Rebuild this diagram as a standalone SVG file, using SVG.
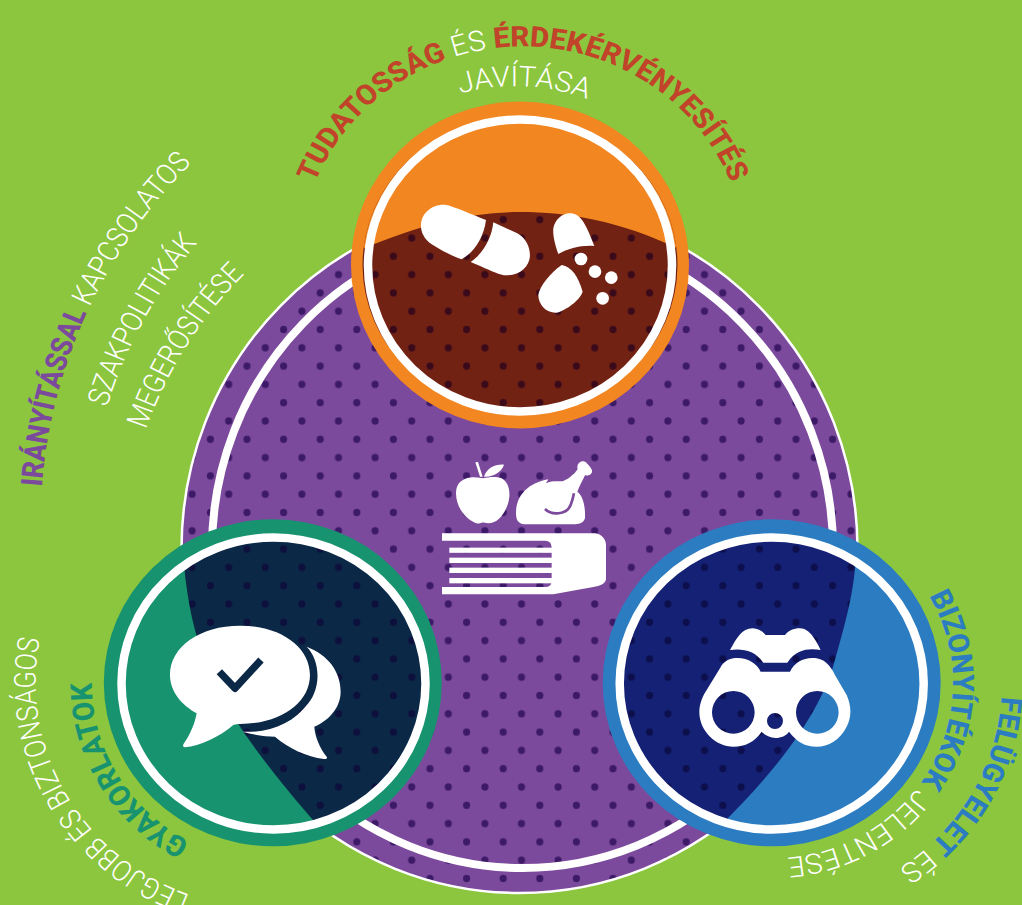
<svg xmlns="http://www.w3.org/2000/svg" width="1022" height="905" viewBox="0 0 1022 905">
<style>
text{font-family:Roboto,"Liberation Sans",sans-serif;font-size:30px}
.b{font-weight:800}.l{font-weight:300;fill:#fff}
.ring{fill:none;stroke:#fff;stroke-width:8.5}
.w{fill:#fff}
</style>
<defs>
<pattern id="dMain" patternUnits="userSpaceOnUse" x="9.1" y="18.4" width="36.6" height="36.6"><rect width="36.6" height="36.6" fill="#7c4a9c"/><circle cx="0" cy="0" r="3.6" fill="#3d1a68"/><circle cx="36.6" cy="0" r="3.6" fill="#3d1a68"/><circle cx="0" cy="36.6" r="3.6" fill="#3d1a68"/><circle cx="36.6" cy="36.6" r="3.6" fill="#3d1a68"/><circle cx="18.3" cy="18.3" r="3.6" fill="#3d1a68"/></pattern>
<pattern id="dBrown" patternUnits="userSpaceOnUse" x="9.1" y="18.4" width="36.6" height="36.6"><rect width="36.6" height="36.6" fill="#722213"/><circle cx="0" cy="0" r="3.6" fill="#3a0a1a"/><circle cx="36.6" cy="0" r="3.6" fill="#3a0a1a"/><circle cx="0" cy="36.6" r="3.6" fill="#3a0a1a"/><circle cx="36.6" cy="36.6" r="3.6" fill="#3a0a1a"/><circle cx="18.3" cy="18.3" r="3.6" fill="#3a0a1a"/></pattern>
<pattern id="dNavy" patternUnits="userSpaceOnUse" x="9.1" y="18.4" width="36.6" height="36.6"><rect width="36.6" height="36.6" fill="#0b2846"/><circle cx="0" cy="0" r="3.6" fill="#0d0f3d"/><circle cx="36.6" cy="0" r="3.6" fill="#0d0f3d"/><circle cx="0" cy="36.6" r="3.6" fill="#0d0f3d"/><circle cx="36.6" cy="36.6" r="3.6" fill="#0d0f3d"/><circle cx="18.3" cy="18.3" r="3.6" fill="#0d0f3d"/></pattern>
<pattern id="dBlue" patternUnits="userSpaceOnUse" x="9.1" y="18.4" width="36.6" height="36.6"><rect width="36.6" height="36.6" fill="#142175"/><circle cx="0" cy="0" r="3.6" fill="#0d0f4d"/><circle cx="36.6" cy="0" r="3.6" fill="#0d0f4d"/><circle cx="0" cy="36.6" r="3.6" fill="#0d0f4d"/><circle cx="36.6" cy="36.6" r="3.6" fill="#0d0f4d"/><circle cx="18.3" cy="18.3" r="3.6" fill="#0d0f4d"/></pattern>
<clipPath id="cO"><ellipse cx="520" cy="265" rx="157.5" ry="148"/></clipPath>
<clipPath id="cT"><ellipse cx="273.5" cy="683.5" rx="153" ry="147"/></clipPath>
<clipPath id="cB"><ellipse cx="771.7" cy="683.5" rx="153" ry="147"/></clipPath>
<path id="pTop" d="M299,272 A224,224 0 0 1 747,272"/>
<path id="pJav" d="M315,289 A200,200 0 0 1 715,289"/>
<path id="pL1" d="M42,503 A535,535 0 0 1 576,6"/>
<path id="pL2" d="M107,421 A480,480 0 0 1 566.5,77"/>
<path id="pL3" d="M146,444 A430,430 0 0 1 552,153"/>
<path id="pG1" d="M190,925 A234,234 0 0 1 272,471"/>
<path id="pG2" d="M190,870 A186,186 0 0 1 278,520"/>
<path id="pB1" d="M929,616 A181,181 0 1 1 591,706"/>
<path id="pB2" d="M1001.6,720 A230,230 0 0 1 772,936"/>
</defs>
<rect width="1022" height="905" fill="#8bc63e"/>
<g id="connectors"/>
<g id="center-circle">
<ellipse cx="519.5" cy="549" rx="338" ry="344" fill="url(#dMain)" stroke="#fff" stroke-width="2.5"/>
<ellipse cx="522.5" cy="549" rx="310.5" ry="319" fill="none" stroke="#fff" stroke-width="8"/>
<g transform="translate(420,450) scale(.3333)">
<path class="w" d="M140,85 C165,78 180,85 190,85 C205,82 225,78 245,85 C262,95 270,115 268,140 C265,175 240,220 205,220 C195,220 190,217 185,218 C180,220 170,222 165,218 C135,205 108,170 108,130 C108,105 120,92 140,85Z"/>
<path class="w" d="M166,37 L174,36 L188,80 L180,80Z"/>
<path class="w" d="M192,80 C200,55 225,42 252,44 C245,65 220,82 192,80Z"/>
<path class="w" d="M288,190 C288,140 320,100 385,88 L378,100 C395,90 420,95 430,93 C450,85 462,72 473,58 C468,40 485,28 497,36 C505,45 510,48 516,60 C518,74 505,78 495,76 C488,92 478,108 472,125 C487,135 497,165 495,205 C490,222 475,222 460,223 L310,223 C295,220 288,210 288,190Z"/>
<path d="M375,177 C395,197 440,195 452,165 C458,150 460,140 462,130" fill="none" stroke="#7c4a9c" stroke-width="8"/>
<path class="w" d="M66,250 L525,250 C545,252 558,268 558,285 L558,388 C556,402 540,408 520,411 L400,433 L66,433 L66,411 L375,411 Q395,411 395,392 L395,292 Q395,272 375,272 L66,272Z"/>
<rect class="w" x="88" y="293" width="308" height="15.5"/>
<rect class="w" x="88" y="323" width="308" height="16"/>
<rect class="w" x="88" y="353" width="308" height="16"/>
<rect class="w" x="88" y="384" width="308" height="16"/>
</g>
</g>
<g id="node-orange">
<ellipse cx="520" cy="265" rx="169" ry="163.5" fill="#f28621"/>
<g clip-path="url(#cO)">
<rect x="360" y="110" width="320" height="310" fill="url(#dBrown)"/>
<path d="M355,252 C420,224 470,212 520,212 C570,212 625,222 685,252 L685,90 L355,90Z" fill="#f28621"/>
</g>
<ellipse class="ring" cx="520" cy="265.5" rx="152" ry="146"/>
<g transform="translate(280,0) scale(.3333)" class="w">
<path d="M490,614 C505,614 520,620 618,660 C612,710 585,755 545,778 C520,770 490,755 455,733 C430,715 422,695 423,672 C425,640 455,614 490,614Z"/>
<path d="M640,667 L712,700 C738,715 750,740 750,768 C748,800 720,826 680,826 C660,826 640,815 572,786 C610,760 635,715 640,667Z"/>
<path d="M870,640 C900,640 915,665 943,738 C905,735 865,745 835,762 C825,735 818,705 820,685 C825,660 845,640 870,640Z"/>
<path d="M845,795 C875,800 895,830 908,875 C900,900 860,930 830,938 C800,940 775,915 775,885 C778,860 810,820 845,795Z"/>
<circle cx="903" cy="777" r="19"/><circle cx="945" cy="815" r="19"/><circle cx="994" cy="833" r="19"/><circle cx="968" cy="895" r="19"/>
</g>
</g>
<g id="node-teal">
<ellipse cx="272.8" cy="682.8" rx="169" ry="163.5" fill="#18936f"/>
<ellipse cx="275" cy="683" rx="153.5" ry="149" fill="#0b2846"/>
<g clip-path="url(#cT)">
<rect x="115" y="530" width="320" height="310" fill="url(#dNavy)"/>
<path d="M182,545 C186,590 190,612 197,637 C210,680 232,727 313,820 L330,880 L80,880 L80,545Z" fill="#18936f"/>
</g>
<ellipse class="ring" cx="273.5" cy="683.5" rx="152" ry="146"/>
<g transform="translate(0,520) scale(.3333)">
<path class="w" d="M720,317 C840,317 930,380 930,465 C930,550 840,612 720,612 C712,612 708,612 700,615 C660,650 600,678 555,682 C548,682 548,675 552,670 C570,645 585,610 590,580 C545,555 510,515 510,465 C510,380 600,317 720,317Z"/>
<path class="w" d="M920,380 C985,405 1022,455 1022,515 C1022,560 990,600 943,620 C945,650 960,685 980,710 C984,716 978,718 972,717 C920,710 865,685 825,650 C800,650 760,645 728,635 C810,640 880,610 925,550 C965,500 960,420 920,380Z"/>
<path d="M658,455 L705,505 L783,420" fill="none" stroke="#0b2846" stroke-width="22" stroke-linejoin="round"/>
</g>
</g>
<g id="node-blue">
<ellipse cx="771.7" cy="682.8" rx="169" ry="163.5" fill="#2b7cc1"/>
<ellipse cx="770" cy="683" rx="153.5" ry="149" fill="#142175"/>
<g clip-path="url(#cB)">
<rect x="610" y="530" width="320" height="310" fill="url(#dBlue)"/>
<path d="M857,545 C854,590 850,607 833,667 C822,700 800,745 728,818 L700,880 L950,880 L950,545Z" fill="#2b7cc1"/>
</g>
<ellipse class="ring" cx="771.7" cy="683.5" rx="152" ry="146"/>
<g transform="translate(600,520) scale(.3333)" class="w">
<path d="M390,390 C410,355 425,325 458,325 C475,325 490,335 497,345 L555,345 C565,332 580,325 600,325 C630,325 650,365 662,390 C630,385 590,385 562,428 L490,428 C465,390 425,385 390,390Z"/>
<path fill-rule="evenodd" d="M400,415 C440,410 470,430 482,455 L570,455 C585,425 615,410 650,415 C680,420 695,445 705,465 L740,525 C755,560 755,590 740,620 C720,660 685,680 650,680 C615,680 590,665 567,635 C550,660 505,660 485,635 C465,665 435,680 400,680 C350,680 298,635 298,575 C298,550 310,525 320,510 L360,445 C370,425 385,418 400,415Z M336,577 a64,64 0 1 0 128,0 a64,64 0 1 0 -128,0Z M588,577 a64,64 0 1 0 128,0 a64,64 0 1 0 -128,0Z M501,603 a24,24 0 1 0 48,0 a24,24 0 1 0 -48,0Z"/>
</g>
</g>
<g id="labels" transform="scale(1,.9675)">
<text class="b" fill="#c1432a" text-anchor="middle" style="font-size:29.4px"><textPath href="#pTop" startOffset="50%">TUDATOSSÁG <tspan class="l">ÉS </tspan>ÉRDEKÉRVÉNYESÍTÉS</textPath></text>
<text class="l" text-anchor="middle" style="font-size:29.5px"><textPath href="#pJav" startOffset="323">JAVÍTÁSA</textPath></text>
<text class="b" fill="#7c4a9c"><textPath href="#pL1" textLength="374" lengthAdjust="spacingAndGlyphs">IRÁNYÍTÁSSAL <tspan class="l">KAPCSOLATOS</tspan></textPath></text>
<text class="l"><textPath href="#pL2" textLength="194" lengthAdjust="spacingAndGlyphs">SZAKPOLITIKÁK</textPath></text>
<text class="l"><textPath href="#pL3" textLength="190" lengthAdjust="spacingAndGlyphs">MEGERŐSÍTÉSE</textPath></text>
<text class="l"><textPath href="#pG1" textLength="331" lengthAdjust="spacingAndGlyphs">LEGJOBB ÉS BIZTONSÁGOS</textPath></text>
<text class="b" fill="#18936f"><textPath href="#pG2" textLength="201" lengthAdjust="spacingAndGlyphs">GYAKORLATOK</textPath></text>
<text class="b" fill="#2b7cc1" style="font-size:29.2px"><textPath href="#pB1">BIZONYÍTÉKOK <tspan class="l">JELENTÉSE</tspan></textPath></text>
<text class="b" fill="#2b7cc1" style="font-size:29.2px"><textPath href="#pB2">FELÜGYELET <tspan class="l">ÉS</tspan></textPath></text>
</g>
</svg>
